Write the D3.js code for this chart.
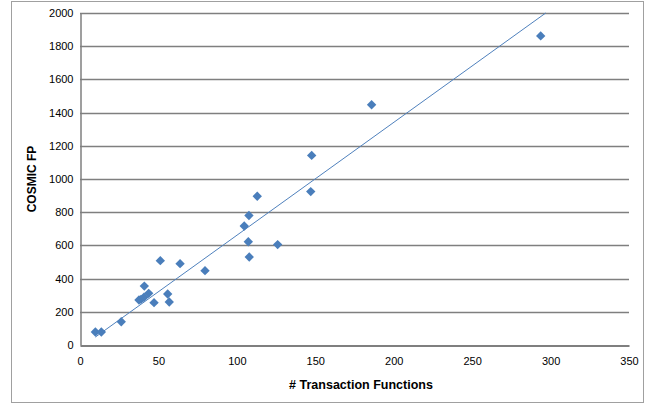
<!DOCTYPE html>
<html>
<head>
<meta charset="utf-8">
<script src="https://cdn.jsdelivr.net/npm/d3@7"></script>
<style>
  html, body { margin: 0; padding: 0; background: #ffffff; }
  svg { display: block; font-family: "Liberation Sans", Arial, sans-serif; }
</style>
</head>
<body>
<svg id="chart" width="650" height="404"></svg>
<script>
// Transaction functions counted per project
const transactionFunctions = [
  9.8, 13.6, 26.3, 37.6, 38.9, 40.8, 43.8, 41.0, 47.2, 51.2, 55.9, 56.9,
  63.8, 79.7, 104.7, 107.3, 107.7, 107.9, 113.0, 126.0, 147.1, 147.7, 185.9, 293.7
];
// Measured COSMIC function points for the same projects
const cosmicFP = [
  78, 78, 140, 271, 275, 288, 311, 355, 255, 508, 307, 259,
  490, 448, 717, 622, 780, 530, 896, 605, 924, 1142, 1447, 1862
];
// Linear trend line: y = slope * x + intercept
const trendSlope = 6.8;
const trendIntercept = -19;

const xTicks = [0, 50, 100, 150, 200, 250, 300, 350];
const yTicks = [0, 200, 400, 600, 800, 1000, 1200, 1400, 1600, 1800, 2000];
const xTitle = "# Transaction Functions";
const yTitle = "COSMIC FP";

const svg = d3.select("#chart");

// outer chart frame
svg.append("rect")
  .attr("x", 11.5).attr("y", 1.5)
  .attr("width", 632).attr("height", 401)
  .attr("fill", "#fff").attr("stroke", "#a0a0a0").attr("stroke-width", 1);

const x = d3.scaleLinear().domain([0, 350]).range([80, 629]);
const y = d3.scaleLinear().domain([0, 2000]).range([345, 13]);

// horizontal gridlines
svg.append("g")
  .selectAll("line")
  .data(yTicks.filter(d => d > 0))
  .join("line")
  .attr("x1", x(0)).attr("x2", x(350))
  .attr("y1", d => Math.round(y(d)) + 0.5)
  .attr("y2", d => Math.round(y(d)) + 0.5)
  .attr("stroke", "#7f7f7f").attr("stroke-width", 1.3);

// axes (no tick marks, labels only)
const xAxis = svg.append("g")
  .attr("transform", `translate(0,${Math.round(y(0)) + 0.5})`)
  .call(d3.axisBottom(x).tickValues(xTicks).tickFormat(d3.format("d"))
    .tickSize(0).tickPadding(12));
xAxis.select(".domain").attr("stroke", "#7f7f7f").attr("stroke-width", 2);
xAxis.selectAll("text").attr("font-size", 11).attr("fill", "#000")
  .attr("font-family", "Liberation Sans, Arial, sans-serif");

const yAxis = svg.append("g")
  .attr("transform", `translate(${Math.round(x(0)) + 0.5},0)`)
  .call(d3.axisLeft(y).tickValues(yTicks).tickFormat(d3.format("d"))
    .tickSize(0).tickPadding(7));
yAxis.select(".domain").attr("stroke", "#7f7f7f").attr("stroke-width", 1.5);
yAxis.selectAll("text").attr("font-size", 11).attr("fill", "#000")
  .attr("font-family", "Liberation Sans, Arial, sans-serif");

// trend line from the smallest x up to the top of the value axis
const xStart = d3.min(transactionFunctions);
const xEnd = (y.domain()[1] - trendIntercept) / trendSlope;
svg.append("line")
  .attr("x1", x(xStart)).attr("y1", y(trendSlope * xStart + trendIntercept))
  .attr("x2", x(xEnd)).attr("y2", y(trendSlope * xEnd + trendIntercept))
  .attr("stroke", "#4f81bd").attr("stroke-width", 1);

// diamond markers
const pts = transactionFunctions.map((v, i) => ({ x: v, y: cosmicFP[i] }));
const diamond = d3.symbol().type(d3.symbolSquare).size(44);
svg.append("g")
  .selectAll("path")
  .data(pts)
  .join("path")
  .attr("d", diamond)
  .attr("transform", d => `translate(${x(d.x)},${y(d.y)}) rotate(45)`)
  .attr("fill", "#4a7ebb");

// axis titles
svg.append("text")
  .attr("x", 361).attr("y", 389)
  .attr("text-anchor", "middle")
  .attr("font-size", 12.5).attr("font-weight", "bold")
  .text(xTitle);

svg.append("text")
  .attr("transform", `translate(36,${(y(0) + y(2000)) / 2}) rotate(-90)`)
  .attr("text-anchor", "middle")
  .attr("font-size", 12).attr("font-weight", "bold")
  .text(yTitle);
</script>
</body>
</html>
